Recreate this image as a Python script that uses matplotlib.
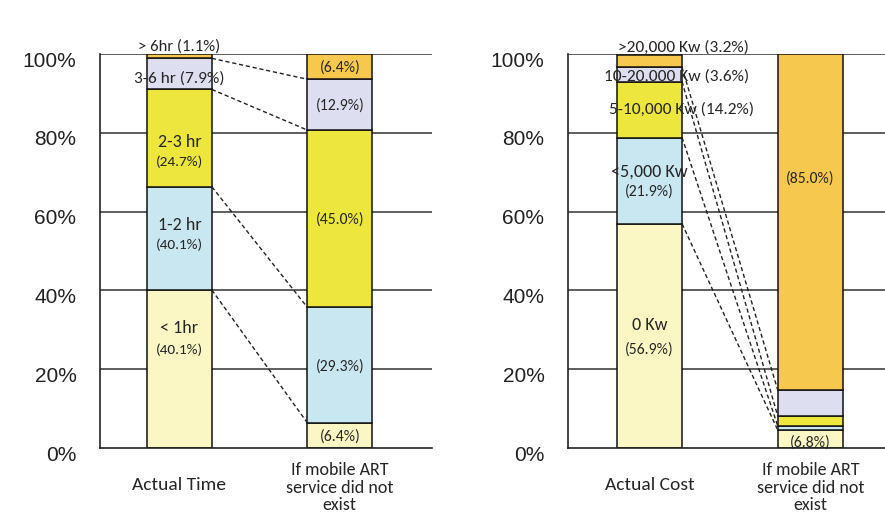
import numpy as np
import matplotlib
matplotlib.use('Agg')
import matplotlib.pyplot as plt
import matplotlib.transforms as mtransforms

# values (percent, stacked bottom -> top)
time_cats = ['< 1hr', '1-2 hr', '2-3 hr', '3-6 hr', '> 6hr']
time_actual = [40.1, 26.2, 24.7, 7.9, 1.1]
time_actual_lbl = ['(40.1%)', '(40.1%)', '(24.7%)', '(7.9%)', '(1.1%)']
time_nomobile = [6.4, 29.3, 45.0, 12.9, 6.4]
time_nomobile_lbl = ['(6.4%)', '(29.3%)', '(45.0%)', '(12.9%)', '(6.4%)']

cost_cats = ['0 Kw', '<5,000 Kw', '5-10,000 Kw', '10-20,000 Kw', '>20,000 Kw']
cost_actual = [56.9, 21.9, 14.2, 3.6, 3.2]
cost_actual_lbl = ['(56.9%)', '(21.9%)', '(14.2%)', '(3.6%)', '(3.2%)']
cost_nomobile = [4.5, 1.0, 2.5, 6.6, 85.4]

xlabels_time = ['Actual Time', 'If mobile ART\nservice did not\nexist']
xlabels_cost = ['Actual Cost', 'If mobile ART\nservice did not\nexist']
yticks = [0, 20, 40, 60, 80, 100]

colors = ['#FAF7C4', '#C8E7F1', '#EDE63C', '#DEDEF1', '#F6C94E']
txt = '#262626'
lblfont = ['Carlito', 'Lato', 'DejaVu Sans']
W = 0.405

fig = plt.figure(figsize=(8.85, 5.13), dpi=100)
ax1 = fig.add_axes([0.113, 0.1267, 0.375, 0.768])
ax2 = fig.add_axes([0.6418, 0.1267, 0.3582, 0.768])


def draw_panel(ax, a, b, xlim):
    ax.set_xlim(*xlim)
    ax.set_ylim(0, 100)
    for yv in yticks[1:]:
        ax.axhline(yv, color='#333333', lw=1.1, zorder=0)
    bot_a = np.concatenate([[0], np.cumsum(a)[:-1]])
    bot_b = np.concatenate([[0], np.cumsum(b)[:-1]])
    for i in range(len(a)):
        ax.bar(0, a[i], W, bottom=bot_a[i], color=colors[i],
               edgecolor='#111111', lw=1.1, zorder=2)
        ax.bar(1, b[i], W, bottom=bot_b[i], color=colors[i],
               edgecolor='#111111', lw=1.1, zorder=2)
    # dashed connectors between matching segment tops
    top_a = np.cumsum(a)
    top_b = np.cumsum(b)
    for i in range(len(a) - 1):
        ax.plot([W / 2, 1 - W / 2], [top_a[i], top_b[i]], ls=(0, (3, 2)),
                color='#222222', lw=1.0, zorder=3)
    for s in ['top', 'right']:
        ax.spines[s].set_visible(False)
    for s in ['left', 'bottom']:
        ax.spines[s].set_color('#222222')
        ax.spines[s].set_linewidth(1.2)
    ax.set_yticks(yticks)
    ax.set_yticklabels([f'{v}%' for v in yticks], fontsize=15,
                       family='Liberation Sans', color='#222222')
    ax.tick_params(axis='y', length=0, pad=17)
    ax.set_xticks([])
    off = mtransforms.ScaledTranslation(0, -5 / 100, fig.dpi_scale_trans)
    for lab in ax.get_yticklabels():
        lab.set_transform(lab.get_transform() + off)
    return top_b - np.array(b) / 2


def put(ax, x, y, s, size):
    ax.text(x, y, s, ha='center', va='center', fontsize=size, color=txt,
            family=lblfont, zorder=5, clip_on=False)


# ---- left panel: travel time
mid_b = draw_panel(ax1, time_actual, time_nomobile, (-0.495, 1.574))
name_y = [30.5, 56.6, 77.7]
pct_y = [24.9, 51.5, 72.6]
for i in range(3):
    put(ax1, 0, name_y[i], time_cats[i], 13)
    put(ax1, 0, pct_y[i], time_actual_lbl[i], 11)
put(ax1, 0, 93.8, f'{time_cats[3]} {time_actual_lbl[3]}', 12.5)
put(ax1, 0, 101.9, f'{time_cats[4]} {time_actual_lbl[4]}', 12)
for i in range(5):
    put(ax1, 1, mid_b[i] - 0.3, time_nomobile_lbl[i], 11.3)

# ---- right panel: travel cost
draw_panel(ax2, cost_actual, cost_nomobile, (-0.506, 1.463))
name_y = [31.2, 70.1]
pct_y = [25.1, 65.0]
for i in range(2):
    put(ax2, 0, name_y[i], cost_cats[i], 13)
    put(ax2, 0, pct_y[i], cost_actual_lbl[i], 11.3)
put(ax2, 0.2, 85.8, f'{cost_cats[2]} {cost_actual_lbl[2]}', 12.5)
put(ax2, 0.17, 94.3, f'{cost_cats[3]} {cost_actual_lbl[3]}', 12.5)
put(ax2, 0.21, 101.6, f'{cost_cats[4]} {cost_actual_lbl[4]}', 12.5)
put(ax2, 1, 68.5, '(85.0%)', 11.3)
put(ax2, 1, 1.5, '(6.8%)', 11.3)

# category labels under the bars
for ax, names in [(ax1, xlabels_time), (ax2, xlabels_cost)]:
    tr = mtransforms.blended_transform_factory(ax.transData, ax.transAxes)
    ax.text(0, -0.094, names[0], transform=tr, ha='center', va='center',
            fontsize=14, color=txt, family=lblfont)
    ax.text(1, -0.036, names[1], transform=tr, ha='center', va='top',
            fontsize=13, color=txt, family=lblfont, linespacing=1.12)

fig.savefig('out.png', dpi=100, facecolor='white')
